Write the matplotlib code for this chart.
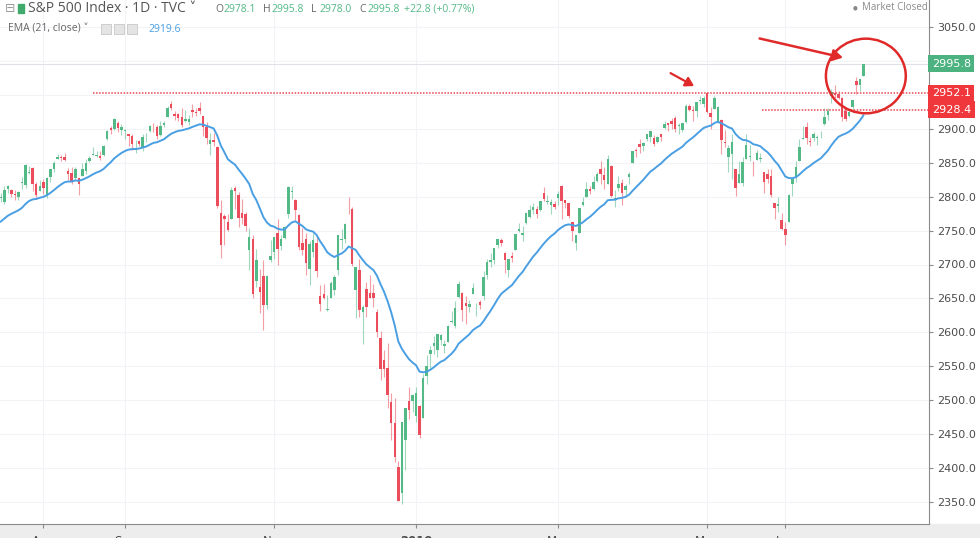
# S&P 500 daily candles with EMA(21) - TradingView style screenshot
import numpy as np
import pandas as pd
import matplotlib
matplotlib.use("Agg")
from matplotlib import pyplot as plt
from matplotlib.patches import Ellipse, FancyArrowPatch

# closes before the visible window (Jun 1 - Jul 13 2018), only to warm up the EMA
prior_close = [2735, 2747, 2749, 2772, 2770, 2779, 2782, 2787, 2776, 2782, 2780,
               2774, 2763, 2767, 2750, 2755, 2717, 2723, 2700, 2716, 2718,
               2727, 2713, 2737, 2760, 2784, 2794, 2774, 2798, 2801]

# daily bars, Jul 16 2018 .. Jul 3 2019 (one line per month)
opens = [
    2798, 2792, 2811, 2810, 2804, 2799, 2820, 2817, 2835, 2842, 2819, 2809,
    2822, 2801, 2829, 2840, 2856, 2858, 2858, 2838, 2835, 2827, 2827, 2831, 2838, 2853, 2861, 2860, 2860, 2862, 2885, 2901, 2900, 2909, 2898,
    2897, 2892, 2889, 2868, 2882, 2871, 2889, 2896, 2906, 2903, 2891, 2906, 2917, 2937, 2922, 2922, 2917, 2911, 2910,
    2927, 2924, 2931, 2919, 2902, 2878, 2883, 2873, 2776, 2771, 2763, 2767, 2812, 2802, 2776, 2774, 2721, 2737, 2675, 2667, 2683, 2640, 2706,
    2718, 2746, 2727, 2739, 2775, 2807, 2795, 2773, 2731, 2737, 2693, 2718, 2731, 2654, 2657, 2633, 2650, 2663, 2692, 2736, 2737,
    2791, 2782, 2663, 2692, 2630, 2664, 2658, 2658, 2630, 2591, 2559, 2548, 2497, 2466, 2401, 2363, 2442, 2499, 2499,
    2477, 2491, 2474, 2535, 2568, 2580, 2574, 2588, 2580, 2586, 2615, 2609, 2652, 2658, 2643, 2638, 2657, 2644, 2645, 2654, 2685,
    2703, 2706, 2728, 2736, 2717, 2692, 2713, 2722, 2750, 2744, 2761, 2770, 2780, 2782, 2781, 2805, 2792, 2787, 2789,
    2798, 2815, 2795, 2790, 2763, 2731, 2747, 2788, 2799, 2811, 2811, 2823, 2841, 2832, 2819, 2845, 2797, 2812, 2820, 2810, 2829,
    2849, 2868, 2877, 2874, 2885, 2888, 2887, 2881, 2892, 2901, 2908, 2912, 2916, 2904, 2898, 2910, 2934, 2928, 2926, 2941, 2937,
    2952, 2923, 2929, 2909, 2913, 2880, 2859, 2863, 2840, 2820, 2820, 2855, 2859, 2841, 2854, 2856, 2836, 2833, 2830, 2791, 2786, 2766,
    2752, 2763, 2818, 2829, 2853, 2885, 2903, 2882, 2887, 2887, 2889, 2907, 2921, 2949, 2952, 2951, 2946, 2926, 2919, 2932,
    2971, 2964, 2978.1,
]
highs = [
    2805, 2815, 2817, 2812, 2810, 2808, 2829, 2848, 2845, 2843, 2822, 2825,
    2826, 2829, 2841, 2853, 2863, 2862, 2864, 2842, 2843, 2844, 2827, 2850, 2855, 2860, 2873, 2868, 2868, 2876, 2898, 2904, 2916, 2912, 2907,
    2900, 2893, 2892, 2884, 2884, 2893, 2894, 2906, 2908, 2905, 2911, 2912, 2934, 2941, 2926, 2923, 2931, 2927, 2920,
    2937, 2931, 2940, 2919, 2910, 2894, 2894, 2874, 2795, 2775, 2775, 2814, 2816, 2807, 2797, 2778, 2754, 2743, 2723, 2693, 2707, 2685, 2736,
    2741, 2767, 2744, 2757, 2815, 2815, 2796, 2775, 2754, 2747, 2735, 2747, 2742, 2670, 2671, 2655, 2675, 2685, 2744, 2753, 2761,
    2800, 2785, 2696, 2708, 2641, 2674, 2685, 2671, 2635, 2602, 2574, 2585, 2510, 2504, 2410, 2468, 2489, 2520, 2509,
    2520, 2493, 2539, 2566, 2580, 2595, 2598, 2597, 2589, 2611, 2632, 2646, 2675, 2660, 2653, 2648, 2673, 2644, 2647, 2690, 2708,
    2717, 2725, 2738, 2739, 2719, 2708, 2718, 2745, 2761, 2757, 2776, 2788, 2790, 2786, 2793, 2814, 2803, 2796, 2793,
    2808, 2817, 2795, 2791, 2763, 2744, 2784, 2799, 2821, 2816, 2831, 2836, 2852, 2843, 2861, 2846, 2810, 2830, 2826, 2819, 2837,
    2868, 2872, 2885, 2881, 2893, 2896, 2891, 2889, 2893, 2911, 2909, 2916, 2919, 2908, 2909, 2936, 2937, 2933, 2940, 2949, 2949,
    2954, 2932, 2948, 2933, 2914, 2898, 2876, 2892, 2840, 2853, 2858, 2892, 2876, 2853, 2869, 2865, 2836, 2841, 2841, 2791, 2799, 2776,
    2763, 2804, 2828, 2852, 2885, 2904, 2910, 2888, 2895, 2891, 2897, 2930, 2931, 2958, 2965, 2955, 2947, 2932, 2929, 2943,
    2977, 2973, 2995.8,
]
lows = [
    2792, 2789, 2805, 2799, 2795, 2795, 2811, 2813, 2833, 2809, 2796, 2809,
    2804, 2798, 2822, 2836, 2855, 2853, 2852, 2825, 2819, 2826, 2802, 2831, 2833, 2851, 2861, 2858, 2854, 2860, 2884, 2893, 2898, 2895, 2891,
    2885, 2874, 2869, 2864, 2874, 2868, 2880, 2896, 2895, 2885, 2890, 2903, 2917, 2927, 2913, 2912, 2903, 2910, 2906,
    2917, 2919, 2922, 2890, 2877, 2862, 2874, 2784, 2710, 2729, 2749, 2767, 2782, 2756, 2760, 2749, 2692, 2651, 2667, 2628, 2604, 2635, 2703,
    2708, 2700, 2722, 2738, 2768, 2796, 2766, 2722, 2714, 2685, 2670, 2711, 2681, 2631, 2649, 2631, 2650, 2655, 2684, 2723, 2732,
    2774, 2698, 2621, 2623, 2583, 2622, 2650, 2637, 2593, 2530, 2534, 2489, 2441, 2409, 2351, 2347, 2397, 2473, 2482,
    2468, 2444, 2474, 2524, 2548, 2568, 2563, 2582, 2570, 2586, 2614, 2606, 2650, 2617, 2612, 2630, 2657, 2624, 2635, 2648, 2678,
    2696, 2701, 2724, 2727, 2688, 2682, 2703, 2722, 2748, 2734, 2760, 2768, 2775, 2768, 2779, 2793, 2789, 2775, 2782,
    2788, 2767, 2784, 2769, 2735, 2722, 2747, 2786, 2799, 2804, 2810, 2821, 2818, 2812, 2819, 2800, 2785, 2809, 2787, 2799, 2819,
    2849, 2859, 2865, 2867, 2882, 2881, 2875, 2879, 2882, 2899, 2897, 2900, 2895, 2892, 2896, 2909, 2926, 2912, 2917, 2937, 2932,
    2923, 2900, 2929, 2908, 2863, 2873, 2836, 2826, 2801, 2820, 2816, 2855, 2852, 2831, 2854, 2851, 2806, 2820, 2799, 2767, 2777, 2751,
    2729, 2763, 2801, 2822, 2853, 2885, 2878, 2874, 2882, 2876, 2886, 2905, 2913, 2938, 2946, 2944, 2911, 2912, 2918, 2929,
    2952, 2955, 2978.0,
]
closes = [
    2798, 2810, 2816, 2804, 2802, 2807, 2820, 2846, 2837, 2819, 2803, 2816,
    2813, 2827, 2840, 2850, 2858, 2857, 2854, 2833, 2822, 2840, 2818, 2841, 2850, 2857, 2863, 2862, 2857, 2875, 2897, 2898, 2914, 2901, 2902,
    2897, 2889, 2878, 2872, 2877, 2888, 2889, 2904, 2905, 2889, 2904, 2908, 2931, 2930, 2919, 2916, 2906, 2914, 2914,
    2925, 2923, 2926, 2902, 2886, 2884, 2880, 2786, 2728, 2767, 2751, 2810, 2809, 2769, 2768, 2756, 2741, 2656, 2706, 2659, 2641, 2683, 2712,
    2740, 2723, 2738, 2755, 2814, 2807, 2781, 2726, 2722, 2702, 2730, 2736, 2691, 2642, 2650, 2633, 2673, 2682, 2744, 2738, 2760,
    2790, 2700, 2696, 2633, 2638, 2637, 2651, 2651, 2600, 2546, 2546, 2507, 2467, 2417, 2351, 2468, 2489, 2486, 2507,
    2510, 2448, 2532, 2550, 2574, 2585, 2597, 2596, 2583, 2610, 2616, 2636, 2671, 2633, 2639, 2642, 2665, 2644, 2640, 2681, 2704,
    2707, 2725, 2738, 2732, 2706, 2708, 2710, 2745, 2753, 2746, 2776, 2780, 2785, 2775, 2793, 2796, 2794, 2792, 2784,
    2804, 2793, 2790, 2771, 2749, 2743, 2783, 2792, 2811, 2808, 2822, 2833, 2833, 2824, 2855, 2801, 2798, 2818, 2805, 2815, 2834,
    2867, 2867, 2873, 2879, 2893, 2896, 2878, 2888, 2888, 2907, 2906, 2907, 2900, 2905, 2908, 2934, 2927, 2926, 2940, 2943, 2946,
    2924, 2918, 2946, 2932, 2884, 2879, 2871, 2881, 2812, 2834, 2851, 2876, 2860, 2840, 2864, 2856, 2822, 2826, 2802, 2783, 2789, 2752,
    2744, 2803, 2826, 2843, 2873, 2887, 2886, 2880, 2892, 2887, 2890, 2918, 2926, 2954.2, 2950.5, 2945.4, 2917.4, 2913.8, 2924.9, 2941.8,
    2964.3, 2973.0, 2995.8,
]

# exchange holidays inside the window
holidays = ["2018-09-03", "2018-11-22", "2018-12-05", "2018-12-25", "2019-01-01",
            "2019-01-21", "2019-02-18", "2019-04-19", "2019-05-27"]
dates = pd.bdate_range("2018-07-16", "2019-07-03", freq="C", holidays=holidays)

# month labels shown on the time axis
month_marks = ["2018-08", "2018-09", "2018-11", "2019-01", "2019-03", "2019-05", "2019-06"]
month_labels = ["Aug", "Sep", "Nov", "2019", "Mar", "May", "Jun"]

# horizontal levels drawn by hand on the chart
level_hi = 2952.1
level_lo = 2928.4
ema_len = 21
chg = 22.8
chg_pct = 0.77

assert len(opens) == len(highs) == len(lows) == len(closes) == len(dates)

o = np.array(opens, float)
h = np.array(highs, float)
l = np.array(lows, float)
c = np.array(closes, float)
n = len(c)
x = np.arange(n)

ema_all = pd.Series(prior_close + closes, dtype=float).ewm(span=ema_len, adjust=False).mean()
ema = ema_all.values[len(prior_close):]

GREEN = "#53b987"
RED = "#eb4d5c"
BLUE = "#4a9fe3"
TXT = "#4c4c4c"

W, H = 980, 538
fig = plt.figure(figsize=(W / 100, H / 100), dpi=100)
fig.patch.set_facecolor("white")
ax = fig.add_axes([0, 14 / H, 929 / W, 524 / H])

# price -> pixel: 3050 at y=27, 2350 at y=502
ppx = 475 / 700
ax.set_ylim(3050 - (524 - 27) / ppx, 3050 + 27 / ppx)
ax.set_xlim(-0.2, 929 / 3.55 - 0.2)

# grid
month_pos = [int(np.argmax(dates.strftime("%Y-%m") == m)) for m in month_marks]
yticks = np.arange(2350, 3051, 50)
for yv in yticks:
    ax.axhline(yv, color="#f1f3f6", lw=0.8, zorder=0)
for xp in month_pos:
    ax.axvline(xp, color="#f1f3f6", lw=0.8, zorder=0)

# last price line
ax.axhline(c[-1], color="#dfe3e8", lw=0.8, zorder=1)

# candles
up = c >= o
col = np.where(up, GREEN, RED)
ax.vlines(x, l, h, colors=col, lw=0.8, alpha=0.55, zorder=2)
ax.bar(x, np.maximum(np.abs(c - o), 0.9), 0.7, bottom=np.minimum(o, c),
       color=col, lw=0, zorder=3)

# EMA
ax.plot(x, ema, color=BLUE, lw=1.4, zorder=4)

# red dotted levels
ax.hlines(level_hi, 26, ax.get_xlim()[1], colors="#e8474f", linestyles=(0, (1, 1)), lw=1.1, zorder=5)
ax.hlines(level_lo, 214.5, ax.get_xlim()[1], colors="#e8474f", linestyles=(0, (1, 1)), lw=1.1, zorder=5)

# circle + arrows
ax.add_patch(Ellipse((n - 0.3, c[-1] - 18), 22.5, 110, fill=False, ec="#e02a2a", lw=1.8, zorder=6))
ax.add_patch(FancyArrowPatch((213, 3034), (238, 3004), arrowstyle="-|>,head_length=6,head_width=3.5",
                             color="#e02a2a", lw=1.8, zorder=6))
ax.add_patch(FancyArrowPatch((188, 2984), (196, 2961), arrowstyle="-|>,head_length=5,head_width=3",
                             color="#e02a2a", lw=1.6, zorder=6))

# axes styling
for s in ["top", "left"]:
    ax.spines[s].set_visible(False)
ax.spines["right"].set_color("#8a8a8a")
ax.spines["bottom"].set_color("#8a8a8a")
ax.yaxis.tick_right()
ax.set_yticks(yticks)
# 3000 and 2950 sit under the price tags, so they are not shown
ax.set_yticklabels(["" if v in (2950, 3000) else f"{v:.1f}" for v in yticks])
ax.tick_params(axis="y", length=3, color="#8a8a8a", labelcolor=TXT, labelsize=8, pad=3)
ax.set_xticks(month_pos)
ax.set_xticklabels(month_labels)
ax.tick_params(axis="x", length=3, color="#8a8a8a", labelcolor=TXT, labelsize=8.5, pad=5)
for t in ax.get_xticklabels():
    if t.get_text() == "2019":
        t.set_fontweight("bold")

# price tags on the scale
tr = ax.get_yaxis_transform()
ax.text(1.003, c[-1], f"{c[-1]:.1f}", transform=tr, color="white", fontsize=8, va="center", ha="left",
        bbox=dict(boxstyle="square,pad=0.32", fc="#4cb27f", ec="none"), zorder=7, clip_on=False)
ax.text(1.003, level_hi, f"{level_hi:.1f}", transform=tr, color="white", fontsize=8, va="center", ha="left",
        bbox=dict(boxstyle="square,pad=0.32", fc="#f0383c", ec="none"), zorder=7, clip_on=False)
ax.text(1.003, level_lo, f"{level_lo:.1f}", transform=tr, color="white", fontsize=8, va="center", ha="left",
        bbox=dict(boxstyle="square,pad=0.32", fc="#f0383c", ec="none"), zorder=7, clip_on=False)

# header
def px(xp, yp):
    return xp / W, 1 - yp / H

fig.text(*px(5, 9), "\u229f", fontsize=9, color="#9a9a9a", va="center", family="DejaVu Sans")
fig.add_artist(plt.Rectangle(px(18, 13), 6 / W, 9 / H, color="#3faa6b", transform=fig.transFigure))
fig.text(*px(28, 9), "S&P 500 Index \u00b7 1D \u00b7 TVC \u02c5", fontsize=10, color="#555555",
         va="center", family=["Open Sans", "DejaVu Sans"])
for lx, tag, val in [(215, "O", opens[-1]), (263, "H", highs[-1]), (311, "L", lows[-1]), (359, "C", closes[-1])]:
    fig.text(*px(lx, 9), tag, fontsize=7.5, color="#666666", va="center", family="Open Sans")
    fig.text(*px(lx + 8, 9), f"{val:.1f}", fontsize=7.5, color=GREEN, va="center", family="Open Sans")
fig.text(*px(404, 9), f"+{chg:.1f} (+{chg_pct:.2f}%)", fontsize=7.5, color=GREEN, va="center", family="Open Sans")

fig.text(*px(8, 29), "EMA (21, close) \u02c5", fontsize=7.5, color="#666666", va="center", family=["Open Sans", "DejaVu Sans"])
for bx in [101, 114, 127]:
    fig.add_artist(plt.Rectangle(px(bx, 34), 10 / W, 10 / H, fc="#e4e4e4", ec="#c8c8c8", lw=0.6,
                                 transform=fig.transFigure))
fig.text(*px(148, 29), f"{ema[-1]:.1f}", fontsize=7.5, color=BLUE, va="center", family="Open Sans")

fig.text(*px(853, 8), "\u25cf", fontsize=4, color="#888888", va="center")
fig.text(*px(862, 8), "Market Closed", fontsize=7, color="#8a8a8a", va="center", family="Open Sans")

# bottom strip of the time scale
fig.add_artist(plt.Rectangle((0, 0), 1, 14 / H, color="#ededed", transform=fig.transFigure, zorder=-1))

fig.savefig("out.png", dpi=100)
